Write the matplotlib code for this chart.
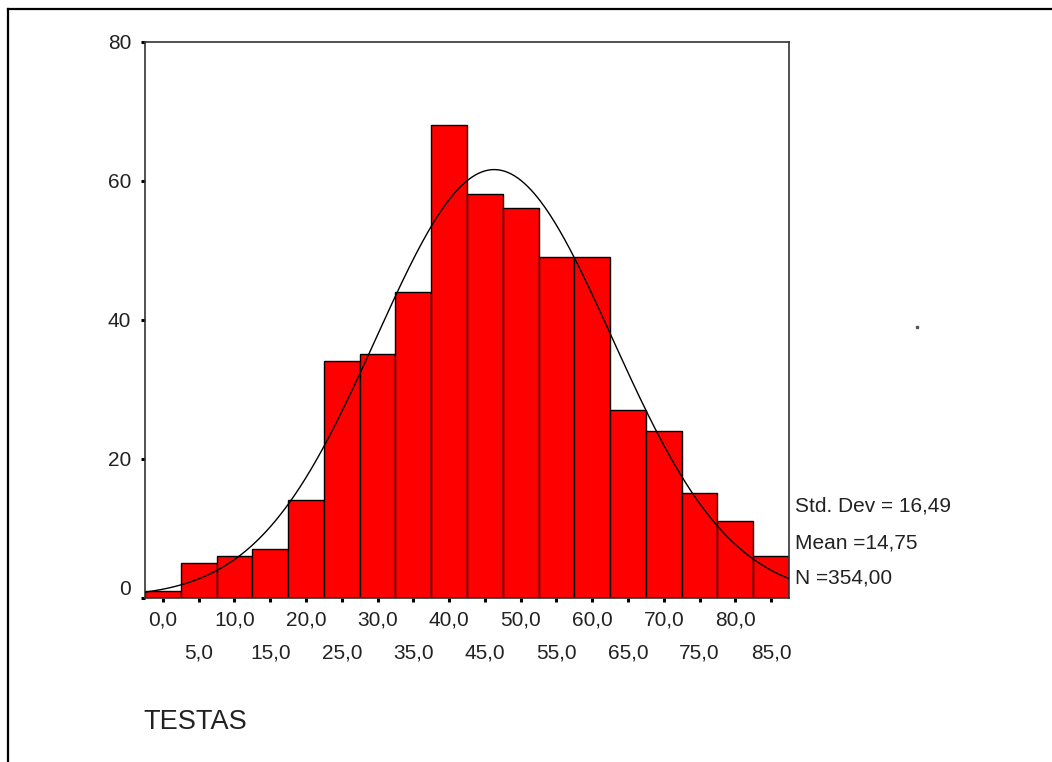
import numpy as np
import matplotlib.pyplot as plt
from matplotlib.lines import Line2D
import matplotlib.transforms as mtransforms

plt.rcParams['font.family'] = ['Liberation Sans', 'DejaVu Sans']

# histogram data (bin centres, width 5)
bin_centers = [0, 5, 10, 15, 20, 25, 30, 35, 40, 45, 50, 55, 60, 65, 70, 75, 80, 85]
counts = [1, 5, 6, 7, 14, 34, 35, 44, 68, 58, 56, 49, 49, 27, 24, 15, 11, 6]
bin_width = 5

# fitted normal curve parameters
curve_mean = 46.3
curve_sd = 16.49

stats_lines = ["Std. Dev = 16,49", "Mean =14,75", "N =354,00"]
y_ticks = [0, 20, 40, 60, 80]
x_label = "TESTAS"

fig = plt.figure(figsize=(10.52, 7.62), dpi=100)
ax = fig.add_axes([145 / 1052, 1 - 597.5 / 762, (789 - 145) / 1052, (597.5 - 41.5) / 762])

ax.bar(bin_centers, counts, width=bin_width, color='#ff0000', edgecolor='black',
       linewidth=1.0, zorder=2)

xs = np.linspace(-2.5, 87.5, 400)
n = sum(counts)
ys = n * bin_width / (curve_sd * np.sqrt(2 * np.pi)) * np.exp(-0.5 * ((xs - curve_mean) / curve_sd) ** 2)
ax.plot(xs, ys, color='black', linewidth=1.0, zorder=3)

ax.set_xlim(-2.5, 87.5)
ax.set_ylim(0, 80)

for s in ax.spines.values():
    s.set_color('#333333')
    s.set_linewidth(1.2)

# x ticks: two rows of labels
major = bin_centers[0::2]
minor = bin_centers[1::2]
ax.set_xticks(major)
ax.set_xticklabels([f"{v:.1f}".replace('.', ',') for v in major])
ax.set_xticks(minor, minor=True)
ax.set_xticklabels([f"{v:.1f}".replace('.', ',') for v in minor], minor=True)
ax.tick_params(axis='x', which='major', length=3, width=2.2, color='black',
               labelsize=15, pad=6, labelcolor='#222222')
ax.tick_params(axis='x', which='minor', length=3, width=2.2, color='black',
               labelsize=15, pad=30, labelcolor='#222222')

ax.set_yticks(y_ticks)
ax.set_yticklabels([str(v) for v in y_ticks])
ax.tick_params(axis='y', length=3, width=2.2, color='black', labelsize=15,
               pad=7, labelcolor='#222222')
# SPSS draws the 0 label a bit higher
lbl0 = ax.get_yticklabels()[0]
lbl0.set_transform(lbl0.get_transform() + mtransforms.ScaledTranslation(0, 7 / 72, fig.dpi_scale_trans))

# statistics box text
stat_y = [506, 543, 578]
for txt, yp in zip(stats_lines, stat_y):
    fig.text(795 / 1052, 1 - yp / 762, txt, fontsize=15, color='#222222',
             ha='left', va='center')

fig.text(143 / 1052, 1 - 722 / 762, x_label, fontsize=19.5, color='#222222',
         ha='left', va='center')

# outer frame (top and left edges)
fig.add_artist(Line2D([8 / 1052, 1.0], [1 - 8.5 / 762, 1 - 8.5 / 762], color='black', linewidth=1.6))
fig.add_artist(Line2D([8 / 1052, 8 / 1052], [1 - 8.5 / 762, 0.0], color='black', linewidth=1.6))

# stray dot
fig.add_artist(Line2D([917 / 1052], [1 - 327 / 762], marker='s', markersize=1.8,
                      color='#555555', linestyle='none'))

fig.savefig("out.png", dpi=100)
